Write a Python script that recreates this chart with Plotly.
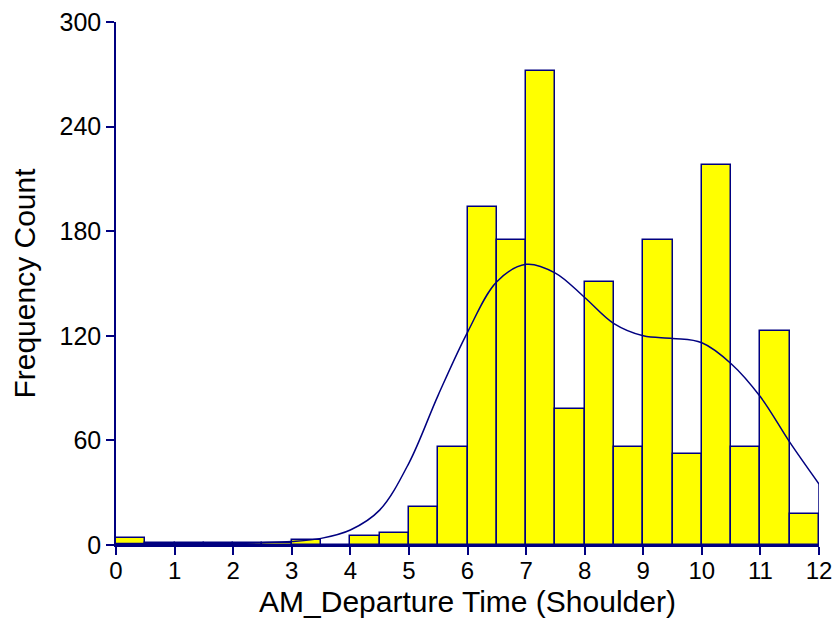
import plotly.graph_objects as go

# Histogram of AM departure times (bin width 0.5)
bin_left = [0, 0.5, 1, 1.5, 2, 2.5, 3, 3.5, 4, 4.5, 5, 5.5,
            6, 6.5, 7, 7.5, 8, 8.5, 9, 9.5, 10, 10.5, 11, 11.5]
counts = [4, 1, 1, 1, 1, 1, 3, 0, 5, 7, 22, 56,
          194, 175, 272, 78, 151, 56, 175, 52, 218, 56, 123, 18]
bin_width = 0.5

# Smoothed density overlay, scaled to counts
curve_x = [0, 0.5, 1, 1.5, 2, 2.5, 3, 3.5, 4, 4.5, 5, 5.5, 6,
           6.5, 7, 7.5, 8, 8.5, 9, 9.5, 10, 10.5, 11, 11.5, 12]
curve_y = [0.8, 0.8, 0.8, 0.9, 1.0, 1.3, 2.0, 3.8, 8.6, 20, 47, 86, 122,
           151, 161, 156, 142, 127, 120, 118.5, 116, 104, 85, 59, 35]

x_ticks = list(range(0, 13))
y_ticks = [0, 60, 120, 180, 240, 300]

navy = "#000080"
font_family = "Liberation Sans, Arial, sans-serif"

fig = go.Figure()

fig.add_trace(go.Bar(
    x=[b + bin_width / 2 for b in bin_left],
    y=counts,
    width=bin_width,
    marker=dict(color="#FFFF00", line=dict(color=navy, width=1.5)),
    showlegend=False,
))

fig.add_trace(go.Scatter(
    x=curve_x, y=curve_y, mode="lines",
    line=dict(color=navy, width=1.5, shape="spline", smoothing=1.0),
    showlegend=False,
))

# closing drop of the density curve at the right edge
fig.add_trace(go.Scatter(
    x=[curve_x[-1], curve_x[-1]], y=[curve_y[-1], 0], mode="lines",
    line=dict(color=navy, width=1.5),
    showlegend=False,
))

fig.update_layout(
    width=836, height=628,
    margin=dict(l=116, r=17, t=22, b=83),
    plot_bgcolor="white", paper_bgcolor="white",
    bargap=0,
    font=dict(family=font_family, color="black"),
)

fig.update_xaxes(
    range=[0, 12], tickvals=x_ticks, ticktext=[str(v) for v in x_ticks],
    showgrid=False, zeroline=False, automargin=False,
    showline=True, linecolor=navy, linewidth=1.5,
    ticks="outside", tickcolor=navy, ticklen=8, tickwidth=1.5,
    ticklabelstandoff=-5,
    tickfont=dict(size=24, family=font_family, color="black"),
    title=dict(text="AM_Departure Time (Shoulder)", font=dict(size=30, family=font_family), standoff=8),
)

fig.update_yaxes(
    range=[0, 300], tickvals=y_ticks, ticktext=[str(v) for v in y_ticks],
    showgrid=False, zeroline=False, automargin=False,
    showline=True, linecolor=navy, linewidth=1.5,
    ticks="outside", tickcolor=navy, ticklen=8, tickwidth=1.5,
    tickfont=dict(size=25, family=font_family, color="black"),
    title=dict(text="Frequency Count", font=dict(size=30, family=font_family), standoff=15),
)

fig.write_html("out.html")
